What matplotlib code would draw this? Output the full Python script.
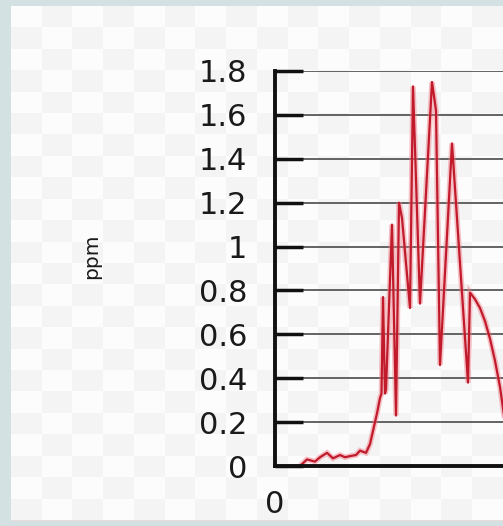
import numpy as np
import matplotlib
matplotlib.use('Agg')
import matplotlib.pyplot as plt
from matplotlib.patches import Rectangle

# Data (x in arbitrary time units, y in ppm)
x_vals = [2.5, 3.2, 4.0, 4.5, 5.2, 5.8, 6.5, 7.0, 7.5, 8.1, 8.5, 9.1, 9.5, 9.8,
          10.2, 10.5, 10.65, 10.8, 11.0, 11.1, 11.7, 12.1, 12.4, 12.7, 13.5,
          13.8, 14.5, 15.7, 16.1, 16.5, 17.7, 19.3, 19.5, 20.0, 20.5, 21.0,
          21.5, 22.0, 22.5, 23.0]
ppm = [0.0, 0.03, 0.02, 0.04, 0.06, 0.035, 0.05, 0.04, 0.045, 0.05, 0.07, 0.06,
       0.10, 0.16, 0.24, 0.31, 0.33, 0.77, 0.33, 0.35, 1.10, 0.23, 1.20, 1.13,
       0.72, 1.73, 0.74, 1.75, 1.62, 0.46, 1.47, 0.38, 0.79, 0.76, 0.72, 0.66,
       0.58, 0.48, 0.36, 0.20]
y_ticks = [0, 0.2, 0.4, 0.6, 0.8, 1, 1.2, 1.4, 1.6, 1.8]
y_tick_labels = ['0', '0.2', '0.4', '0.6', '0.8', '1', '1.2', '1.4', '1.6', '1.8']

W, H = 503, 526
fig = plt.figure(figsize=(W / 100, H / 100), dpi=100, facecolor='#d3e1e3')

# white panel with a faint checker pattern behind the chart
bg = fig.add_axes([11 / W, 6 / H, 1 - 11 / W, 514 / H], zorder=0)
rows, cols = 24, 16
r, c = np.indices((rows, cols))
checker = np.where((r + c) % 2 == 0, 0.99, 0.96)
img = np.dstack([checker, checker, checker])
bg.imshow(img, aspect='auto', interpolation='nearest')
bg.set_axis_off()
fig.add_artist(Rectangle((11 / W, 5 / H), 1 - 11 / W, 1.5 / H,
                         transform=fig.transFigure, color='#e8dcdc', lw=0))

# main chart
ax = fig.add_axes([275 / W, 60 / H, 1 - 275 / W, 395 / H], zorder=1)
ax.patch.set_alpha(0)
ax.plot(x_vals, ppm, color='#f07a85', lw=4, alpha=0.45, solid_joinstyle='miter')
ax.plot(x_vals, ppm, color='#c01a2b', lw=1.6)

ax.set_xlim(0, 22.8)
ax.set_ylim(0, 1.8)
ax.set_yticks(y_ticks)
ax.set_yticklabels(y_tick_labels)
ax.set_xticks([0])
ax.set_xticklabels(['0'])

ax.yaxis.grid(True, color='#4a4a4a', lw=1.2)
ax.set_axisbelow(True)
for s in ['top', 'right']:
    ax.spines[s].set_visible(False)
for s in ['left', 'bottom']:
    ax.spines[s].set_linewidth(2.8)
    ax.spines[s].set_color('#111111')

ax.tick_params(axis='y', direction='in', length=20, width=2.5, pad=20,
               labelsize=22, colors='#111111', labelcolor='#1a1a1a')
ax.tick_params(axis='x', direction='in', length=0, pad=17,
               labelsize=22, labelcolor='#1a1a1a')

fig.text(92 / W, 1 - 256 / H, 'ppm', rotation=90, fontsize=14.5,
         color='#1a1a1a', ha='center', va='center')

fig.savefig('out.png', dpi=100, facecolor=fig.get_facecolor())
